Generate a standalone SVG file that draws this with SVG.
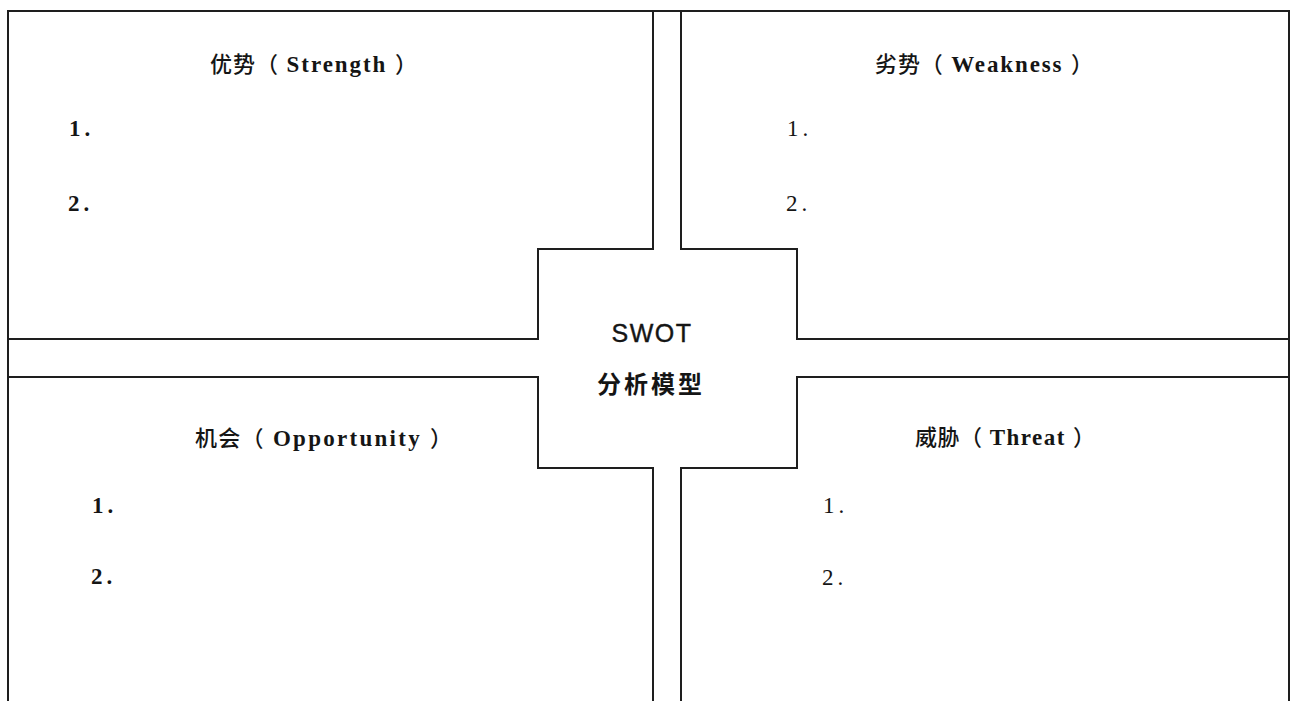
<svg xmlns="http://www.w3.org/2000/svg" width="1295" height="701" viewBox="0 0 1295 701">
  <style>
    .ln { fill: none; stroke: #1e1e1e; stroke-width: 2; stroke-linejoin: miter; }
    .title { font-family: "Liberation Serif", "Noto Sans CJK SC", serif; font-size: 23px; fill: #151515; }
    .title .cjk { font-family: "Noto Sans CJK SC", sans-serif; font-weight: 500; font-size: 22px; }
    .title .lat { font-weight: bold; letter-spacing: 1px; }
    .numb { font-family: "Liberation Serif", serif; font-size: 23px; font-weight: bold; fill: #151515; letter-spacing: 4px; }
    .numr { font-family: "Liberation Serif", serif; font-size: 23px; font-weight: normal; fill: #151515; letter-spacing: 4px; }
    .ctr { font-family: "Liberation Sans", "Noto Sans CJK SC", sans-serif; fill: #151515; text-anchor: middle; }
  </style>
  <rect width="1295" height="701" fill="#ffffff"/>

  <!-- outer frame -->
  <g id="connectors">
    <path class="ln" d="M8,701 V11 H1289 V701"/>
  </g>

  <g id="strength">
    <path class="ln" d="M653,11 V249 H538 V339 H8"/>
    <text class="title" x="210" y="72" textLength="207" lengthAdjust="spacing"><tspan class="cjk">优势（</tspan><tspan class="lat"> Strength </tspan><tspan class="cjk">）</tspan></text>
    <text class="numb" x="69" y="136">1.</text>
    <text class="numb" x="68" y="211">2.</text>
  </g>

  <g id="weakness">
    <path class="ln" d="M681,11 V249 H797 V339 H1289"/>
    <text class="title" x="875" y="72" textLength="218" lengthAdjust="spacing"><tspan class="cjk">劣势（</tspan><tspan class="lat"> Weakness </tspan><tspan class="cjk">）</tspan></text>
    <text class="numr" x="787" y="136">1.</text>
    <text class="numr" x="786" y="211">2.</text>
  </g>

  <g id="opportunity">
    <path class="ln" d="M8,377 H538 V468 H653 V701"/>
    <text class="title" x="195" y="446" textLength="257" lengthAdjust="spacing"><tspan class="cjk">机会（</tspan><tspan class="lat"> Opportunity  </tspan><tspan class="cjk">）</tspan></text>
    <text class="numb" x="92" y="513">1.</text>
    <text class="numb" x="91" y="584">2.</text>
  </g>

  <g id="threat">
    <path class="ln" d="M1289,377 H797 V468 H681 V701"/>
    <text class="title" x="915" y="445" textLength="180" lengthAdjust="spacing"><tspan class="cjk">威胁（</tspan><tspan class="lat"> Threat </tspan><tspan class="cjk">）</tspan></text>
    <text class="numr" x="823" y="513">1.</text>
    <text class="numr" x="822" y="585">2.</text>
  </g>

  <g id="swot-center">
    <text class="ctr" x="652" y="342" font-size="25" letter-spacing="1.5" stroke="#151515" stroke-width="0.4">SWOT</text>
    <text class="ctr" x="651" y="393" font-size="24" font-weight="bold" letter-spacing="3">分析模型</text>
  </g>
</svg>
